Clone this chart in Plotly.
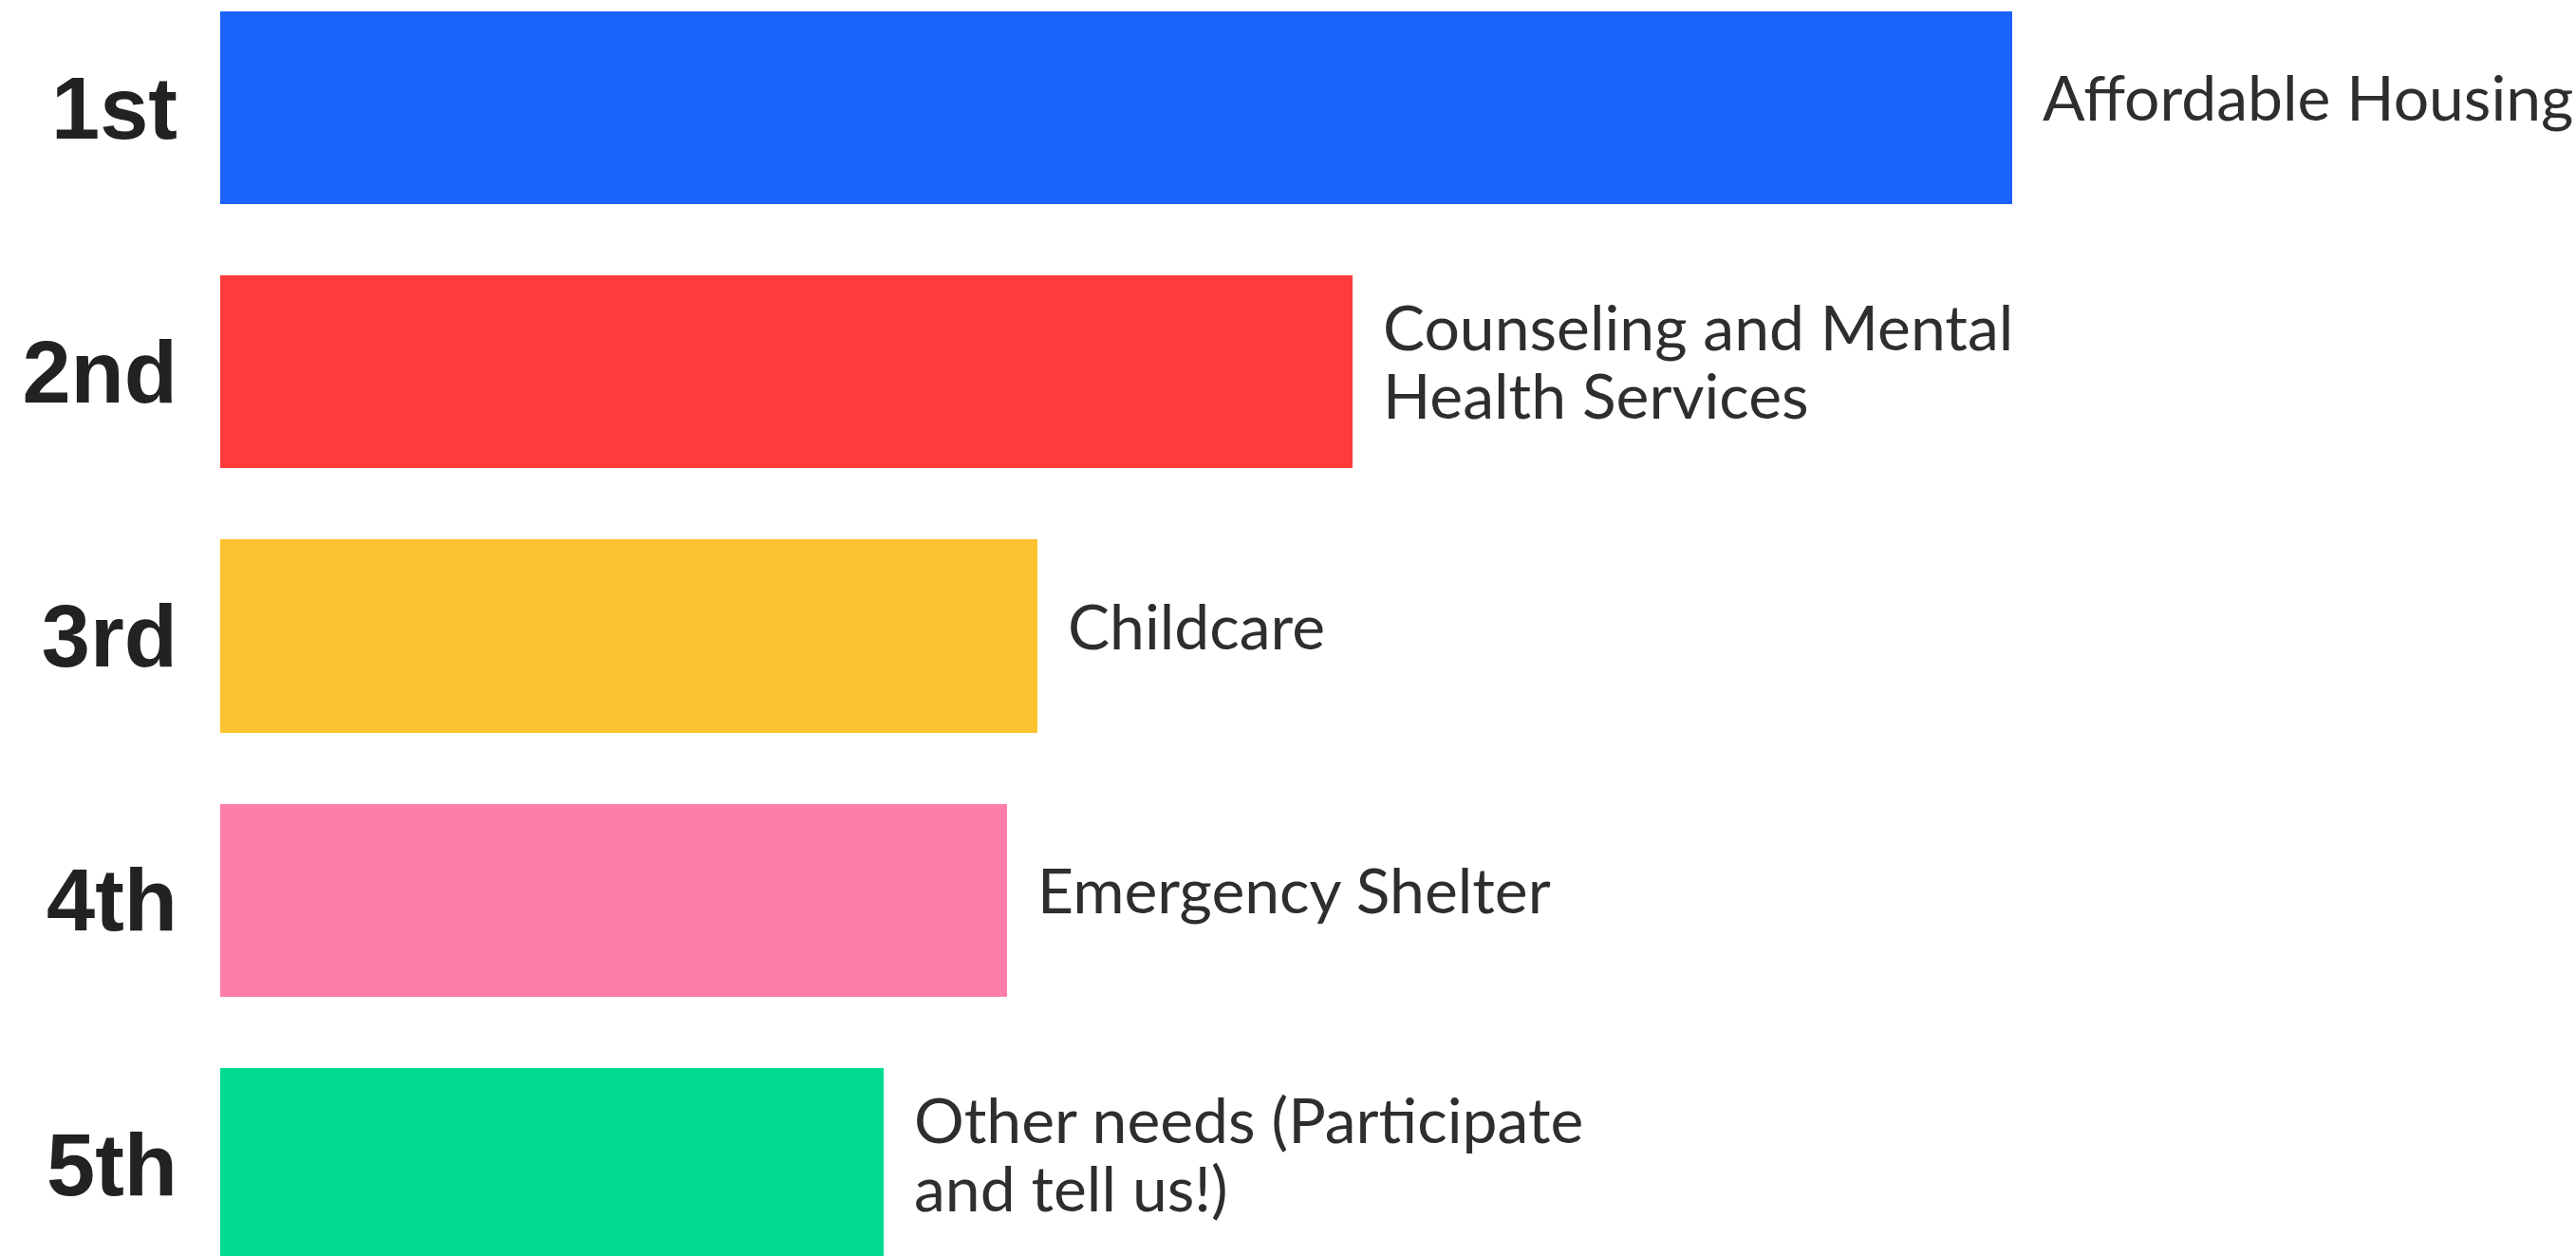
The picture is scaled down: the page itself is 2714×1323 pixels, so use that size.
import plotly.graph_objects as go

# Ranked community needs, bar length = relative priority score
ranks = ["1st", "2nd", "3rd", "4th", "5th"]
needs = [
    "Affordable Housing",
    "Counseling and Mental\nHealth Services",
    "Childcare",
    "Emergency Shelter",
    "Other needs (Participate\nand tell us!)",
]
scores = [100.0, 63.2, 45.6, 43.9, 37.0]
colors = ["#1B64FB", "#FF3B3B", "#FDC22F", "#FE7EA8", "#00DB91"]

positions = list(range(len(ranks)))

fig = go.Figure(
    go.Bar(
        x=scores,
        y=positions,
        orientation="h",
        width=0.73,
        marker=dict(color=colors, line=dict(width=0)),
        hoverinfo="skip",
    )
)

# Category labels to the right of each bar, one annotation per text line
LINE_PITCH = 72
for pos, score, text in zip(positions, scores, needs):
    lines = text.split("\n")
    n = len(lines)
    for k, line in enumerate(lines):
        offset = (k - (n - 1) / 2) * LINE_PITCH
        fig.add_annotation(
            x=score,
            y=pos,
            text=line,
            showarrow=False,
            xanchor="left",
            yanchor="middle",
            xshift=30,
            yshift=-offset + 12,
            font=dict(family="Lato", size=66, color="#2e2e2e"),
        )

fig.update_layout(
    width=2714,
    height=1323,
    margin=dict(l=232, r=0, t=0, b=0),
    paper_bgcolor="white",
    plot_bgcolor="white",
    showlegend=False,
    bargap=0,
    xaxis=dict(
        range=[0, 131.46],
        visible=False,
        showgrid=False,
        zeroline=False,
    ),
    yaxis=dict(
        range=[4.3468, -0.4079],
        tickmode="array",
        tickvals=positions,
        ticktext=ranks,
        ticks="",
        ticklabelstandoff=44,
        showgrid=False,
        zeroline=False,
        showline=False,
        tickfont=dict(family="Liberation Sans", size=92, color="#222222", weight="bold"),
    ),
)

fig.write_html("out.html")
